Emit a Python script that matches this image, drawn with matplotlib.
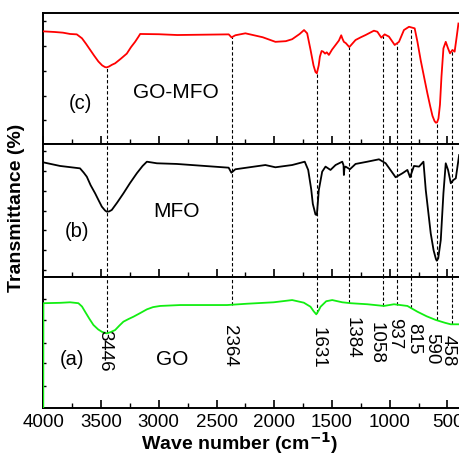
import numpy as np
import matplotlib
matplotlib.use('Agg')
import matplotlib.pyplot as plt
from matplotlib.ticker import MultipleLocator

plt.rcParams['font.family'] = ['Liberation Sans', 'DejaVu Sans']

# --- spectra (wavenumber, relative transmittance 0-100 per panel) ---
go_mfo_wn = [4000, 3900, 3830, 3768, 3710, 3665, 3630, 3595, 3560, 3523, 3490, 3465, 3450,
             3430, 3405, 3378, 3330, 3277, 3240, 3205, 3175, 3161, 3000, 2840,
             2394, 2370, 2337, 2250, 2100, 1990, 1900, 1845, 1780, 1742, 1715, 1686,
             1660, 1643, 1631, 1615, 1605, 1590, 1576, 1560, 1545, 1527, 1500, 1469,
             1440, 1420, 1410, 1397, 1380, 1350, 1330, 1296, 1250, 1209, 1137, 1107,
             1073, 1044, 1007, 957, 920, 877, 833, 784, 760, 732, 700, 674, 650, 630,
             612, 601, 590, 578, 565, 552, 535, 515, 495, 478, 457, 438, 420, 405]
go_mfo_t = [86, 85.5, 85, 84, 83.7, 80.7, 76.5, 72, 67.5, 63, 60, 58.7, 58.5,
            59.2, 60.5, 61.6, 65, 69, 74, 78, 82, 84, 83.8, 83.2,
            83.7, 81.4, 83, 84.5, 81.5, 78, 78.5, 80, 84, 87, 84.5, 72,
            60, 55, 54, 60, 66.6, 71, 70.5, 69, 70, 68, 72, 75.6,
            79, 83, 80.5, 78, 77, 74, 76, 79.4, 81.5, 83.2, 86.5, 85.7,
            81.2, 83.7, 82, 75.6, 78, 87, 89.5, 88.3, 78, 64, 50, 38.7, 29, 21.5,
            17.5, 16.3, 16.5, 19.5, 30, 51.4, 73, 78, 73, 69.2, 71.8, 70.5, 82, 92]

mfo_wn = [4000, 3855, 3682, 3650, 3623, 3590, 3551, 3520, 3493, 3465, 3450, 3430, 3407,
          3360, 3306, 3250, 3190, 3140, 3103, 3016, 2843,
          2395, 2371, 2337, 2077, 1990, 1845, 1736, 1706, 1680, 1666, 1643, 1631,
          1614, 1585, 1556, 1513, 1469, 1411, 1400, 1397, 1392, 1382, 1345, 1296,
          1194, 1093, 1035, 949, 890, 847, 824, 790, 746, 708, 688, 665, 645, 620,
          600, 593, 580, 558, 535, 515, 495, 471, 448, 428, 399]
mfo_t = [86.2, 83.5, 81.7, 78.5, 75.4, 69, 62.9, 57.5, 52.9, 50, 49.1, 49.3, 50.4,
         56, 62.9, 70.5, 78, 83.5, 86.7, 85.5, 85,
         82.2, 78.4, 81, 84.2, 82.5, 84.2, 86.7, 80.5, 66, 55, 47, 46.6,
         65.4, 79.2, 83, 80.5, 84.2, 86.7, 84, 76.7, 82, 83, 81, 85,
         86.7, 88.5, 85.5, 75, 78, 80.5, 75, 83.5, 83, 86.7, 65.4, 48, 32.8, 20,
         13.5, 12.3, 14, 27.8, 63, 85.5, 80.5, 70.5, 73, 74.2, 91.7]

go_wn = [4000, 3999, 3850, 3768, 3696, 3665, 3638, 3600, 3566, 3525, 3493, 3465, 3450,
         3420, 3378, 3340, 3306, 3260, 3219, 3160, 3103, 3050, 2988,
         2814, 2409, 2235, 2005, 1845, 1744, 1686, 1660, 1636, 1615, 1599, 1550, 1498,
         1411, 1339, 1194, 1050, 963, 847, 760, 680, 601, 520, 472, 399]
go_t = [-5, 80, 80.3, 80.7, 80, 77.5, 73.5, 68, 63.4, 60, 58.2, 57.2, 57,
        57.8, 59.5, 63, 65.9, 68, 69.7, 72.5, 75.3, 77, 77.9,
        78.6, 78.6, 79.6, 80.7, 82.4, 80.4, 77.3, 74, 71.5, 74.5, 77.3, 81.5, 82.4,
        80.7, 80, 79.2, 77.9, 79.2, 77.9, 73.5, 70, 67.2, 65, 63.9, 63.9]

# assigned bands, where the guide lines sit, and where their labels sit
band_labels = ['3446', '2364', '1631', '1384', '1058', '937', '815', '590', '458']
band_pos = [3446, 2364, 1631, 1350, 1058, 937, 815, 590, 458]
label_x = [3463, 2391, 1619, 1325, 1117, 961, 796, 640, 492]
label_top = [59.5, 63.4, 61.8, 69.5, 65.6, 68.7, 64.9, 57.3, 55.7]

fig = plt.figure(figsize=(4.59, 4.55), dpi=100)
ax_c = fig.add_axes([0.0943, 0.6835, 0.907, 0.2879])
ax_b = fig.add_axes([0.0943, 0.3912, 0.907, 0.2923])
ax_a = fig.add_axes([0.0943, 0.1033, 0.907, 0.2879])

panels = [
    (ax_c, go_mfo_wn, go_mfo_t, 'red', [18, 37, 56, 75, 94]),
    (ax_b, mfo_wn, mfo_t, 'black', [5, 20, 35, 50, 65, 80, 95]),
    (ax_a, go_wn, go_t, '#12ee12', [17, 34, 50, 67, 83]),
]
for ax, wn, t, col, yt in panels:
    ax.plot(wn, t, color=col, lw=1.3, zorder=3)
    ax.set_xlim(4000, 395)
    ax.set_ylim(0, 100)
    ax.xaxis.set_major_locator(MultipleLocator(500))
    ax.xaxis.set_minor_locator(MultipleLocator(250))
    ax.set_yticks(yt)
    ax.tick_params(axis='x', which='major', direction='in', length=6, width=1.2,
                   top=False, labelsize=13.5, pad=4)
    ax.tick_params(axis='x', which='minor', direction='in', length=3.5, width=1.0, top=False)
    ax.tick_params(axis='y', direction='in', length=2.5, width=1.0, labelleft=False)
    ax.spines['right'].set_visible(False)
    for s in ['top', 'bottom', 'left']:
        ax.spines[s].set_linewidth(1.4)
    if ax is not ax_a:
        ax.tick_params(axis='x', labelbottom=False)

# dashed guide lines running from the GO-MFO curve down to the GO curve
dash = dict(color='black', lw=0.8, linestyle=(0, (3, 2)), zorder=2)
for p in band_pos:
    ax_c.vlines(p, 0, np.interp(p, go_mfo_wn[::-1], go_mfo_t[::-1]), **dash)
    ax_b.vlines(p, 0, 100, **dash)
    ax_a.vlines(p, np.interp(p, go_wn[::-1], go_t[::-1]), 100, **dash)

for lab, x, y in zip(band_labels, label_x, label_top):
    ax_a.text(x, y, lab, rotation=270, ha='center', va='top', fontsize=13.5)

ax_c.text(3682, 31, '(c)', ha='center', va='center', fontsize=14.5)
ax_c.text(2849, 39, 'GO-MFO', ha='center', va='center', fontsize=15)
ax_b.text(3708, 34, '(b)', ha='center', va='center', fontsize=14.5)
ax_b.text(2849, 49, 'MFO', ha='center', va='center', fontsize=15)
ax_a.text(3751, 37, '(a)', ha='center', va='center', fontsize=14.5)
ax_a.text(2883, 37, 'GO', ha='center', va='center', fontsize=15)

fig.text(0.523, 0.027, 'Wave number (cm$^{\\mathbf{-1}}$)', ha='center', va='center',
         fontsize=14, fontweight='bold')
fig.text(0.036, 0.543, 'Transmittance (%)', rotation=90, ha='center', va='center',
         fontsize=14, fontweight='bold')

fig.savefig('out.png', dpi=100)
